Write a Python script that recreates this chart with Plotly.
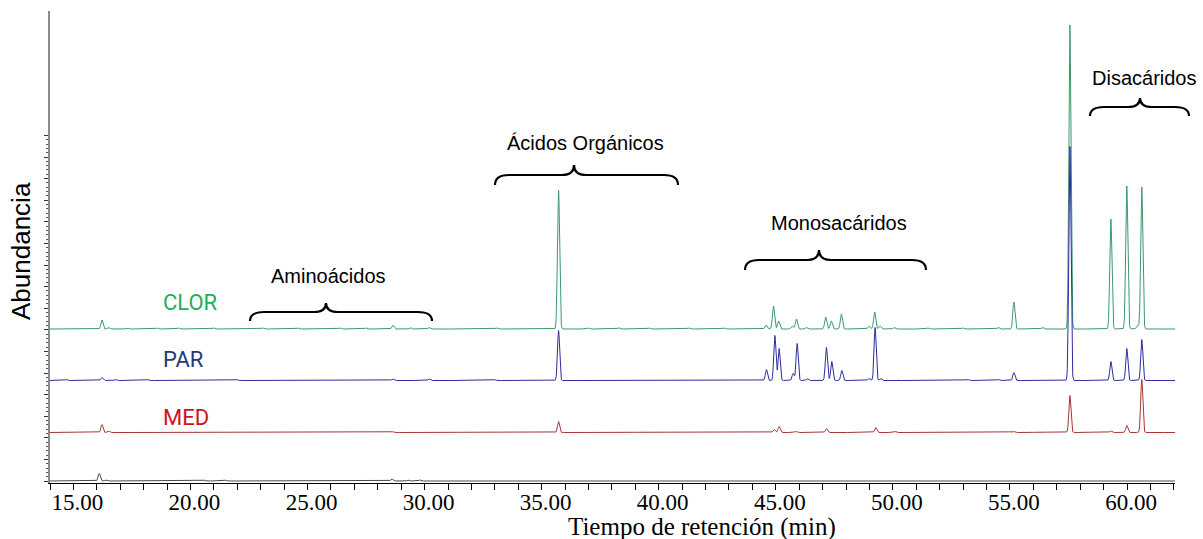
import numpy as np
import plotly.graph_objects as go

# Retention-time grid (min) on which each chromatogram is drawn
RT_MIN, RT_MAX, RT_STEP = 14.0, 62.05, 0.01
PEAK_SIGMA = 0.045  # min

# Vertical offset of each trace (stacked chromatograms, arbitrary abundance units)
offset_clor = 152.0
offset_par = 100.5
offset_med = 48.5
offset_ref = 0.0

# Peak tables: retention time (min) and height (abundance units)
clor_rt = [16.22, 16.5, 17.3, 18.6, 19.5, 21.0, 23.1, 24.6, 26.4, 27.5, 28.65, 29.4, 30.2,
           33.1, 35.72, 37.0, 38.3, 39.6, 41.3, 42.8, 44.58, 44.9, 45.12, 45.7, 45.88, 46.3,
           47.13, 47.37, 47.8, 48.98, 49.22, 49.45, 50.05, 51.5, 53.0, 54.5, 55.17, 56.4,
           57.56, 59.31, 59.99, 60.45, 60.63]
clor_h = [9, 1.5, 1, 1, 1, 1, 1, 1, 1, 1, 4, 1.5, 1.5,
          1, 139, 1, 1.2, 1, 1, 1, 4, 23, 8, 3, 10, 1.5,
          12, 8, 15, 3, 17, 3, 1.5, 1, 1, 1.5, 27, 1.5,
          304, 110, 143, 4, 142]

par_rt = [14.7, 16.22, 16.8, 18.2, 22.0, 28.65, 30.2, 33.0, 35.72, 44.6, 44.96, 45.14,
          45.74, 45.91, 46.35, 47.16, 47.39, 47.82, 48.98, 49.24, 49.48, 53.2, 54.5,
          55.17, 57.56, 59.31, 59.99, 60.63]
par_h = [1, 3, 1, 0.8, 0.8, 1.5, 1.5, 0.8, 50, 11, 45, 32,
         7, 37, 2, 33, 19, 10, 2, 53, 2, 1, 1,
         8, 234, 19, 32, 41]

med_rt = [16.22, 16.5, 28.65, 35.72, 44.93, 45.14, 45.87, 47.16, 49.27, 50.1, 55.17,
          57.56, 59.31, 59.99, 60.63]
med_h = [8, 1.5, 0.8, 11, 3, 6, 1, 4, 5, 1, 1,
         37, 1.5, 7, 53]

ref_rt = [16.1, 16.4, 20.6, 21.5, 28.6, 29.3, 29.8]
ref_h = [7.5, 1, 0.8, 0.8, 2, 1, 1]

rt = np.arange(RT_MIN, RT_MAX + RT_STEP / 2, RT_STEP)


def chromatogram(peak_rt, peak_h, base):
    y = np.full_like(rt, base)
    for r, h in zip(peak_rt, peak_h):
        y += h * np.exp(-0.5 * ((rt - r) / PEAK_SIGMA) ** 2)
    return y


fig = go.Figure()
traces = [
    ("CLOR", clor_rt, clor_h, offset_clor, "#3a9a6c"),
    ("PAR", par_rt, par_h, offset_par, "#2c2ca0"),
    ("MED", med_rt, med_h, offset_med, "#a83434"),
    ("REF", ref_rt, ref_h, offset_ref, "#4a4a4a"),
]
for name, prt, ph, base, color in traces:
    fig.add_trace(go.Scatter(
        x=rt, y=chromatogram(prt, ph, base), mode="lines", name=name,
        line=dict(color=color, width=1), hoverinfo="skip", showlegend=False,
    ))

# Plot-area geometry in pixels, used to place braces and labels
W, H = 1203, 539
L, R, T, B = 50, 28, 11, 56
PW, PH = W - L - R, H - T - B


def px(x):
    return (x - L) / PW


def py(y):
    return (H - B - y) / PH


def brace_path(x0, x1, xt, y_end, y_flat, y_tip, rx=14, rt_=12):
    """Curly brace opening downward, coordinates in pixels -> paper path."""
    def P(x, y):
        return f"{px(x):.5f},{py(y):.5f}"
    return (
        f"M {P(x0, y_end)} "
        f"Q {P(x0, y_flat)} {P(x0 + rx, y_flat)} "
        f"L {P(xt - rt_, y_flat)} "
        f"Q {P(xt, y_flat)} {P(xt, y_tip)} "
        f"Q {P(xt, y_flat)} {P(xt + rt_, y_flat)} "
        f"L {P(x1 - rx, y_flat)} "
        f"Q {P(x1, y_flat)} {P(x1, y_end)}"
    )


groups = [
    # label, brace x0, x1, tip, y_end, y_flat, y_tip, label x, label y (pixels)
    ("Aminoácidos", 250, 432, 326, 321, 312, 303, 328, 276),
    ("Ácidos Orgánicos", 495, 678, 574, 185, 175, 165, 585, 143),
    ("Monosacáridos", 745, 926, 819, 270, 260, 250, 839, 223),
    ("Disacáridos", 1090, 1189, 1140, 116, 107, 98, 1144, 78),
]
SANS = "Liberation Sans"
SERIF = "Liberation Serif"

shapes = []
annotations = []
for label, x0, x1, xt, ye, yf, ytip, lx, ly in groups:
    shapes.append(dict(type="path", xref="paper", yref="paper",
                       path=brace_path(x0, x1, xt, ye, yf, ytip),
                       line=dict(color="black", width=2.2)))
    annotations.append(dict(text=label, xref="paper", yref="paper", x=px(lx), y=py(ly),
                            xanchor="center", yanchor="middle", showarrow=False,
                            font=dict(family=SANS, size=20, color="black")))

sample_labels = [("CLOR", "#1fae5c", 302), ("PAR", "#1f3a7c", 360), ("MED", "#cc1420", 417)]
for text, color, ly in sample_labels:
    annotations.append(dict(text=text, xref="paper", yref="paper", x=px(161), y=py(ly),
                            xanchor="left", yanchor="middle", showarrow=False,
                            font=dict(family="Roboto", size=22, color=color)))

annotations.append(dict(text="Tiempo de retención (min)", xref="paper", yref="paper",
                        x=px(702), y=py(527), xanchor="center", yanchor="middle",
                        showarrow=False,
                        font=dict(family=SERIF, size=25, color="black")))
annotations.append(dict(text="Abundancia", xref="paper", yref="paper",
                        x=px(21), y=py(251), xanchor="center", yanchor="middle",
                        textangle=-90, showarrow=False,
                        font=dict(family=SANS, size=26, color="black")))

x_tickvals = [15, 20, 25, 30, 35, 40, 45, 50, 55, 60]
x_ticktext = ["15.00", "20.00", "25.00", "30.00", "35.00", "40.00", "45.00", "50.00", "55.00", "60.00"]
y_major = [i * 21.6 for i in range(17)]
y_minor = [i * 4.32 for i in range(81)]

fig.update_layout(
    width=W, height=H,
    margin=dict(l=L, r=R, t=T, b=B),
    paper_bgcolor="white", plot_bgcolor="white",
    font=dict(family=SERIF, color="black"),
    shapes=shapes, annotations=annotations,
    xaxis=dict(
        range=[RT_MIN, RT_MAX], tickmode="array", tickvals=x_tickvals, ticktext=x_ticktext,
        ticks="outside", ticklen=6, tickcolor="black", tickwidth=1,
        ticklabelstandoff=-8, ticklabelshift=4,
        showline=True, linecolor="black", linewidth=1, showgrid=False, zeroline=False,
        tickfont=dict(family=SERIF, size=23, color="black"),
        minor=dict(dtick=1, tick0=14, ticks="outside", ticklen=6, tickcolor="black", showgrid=False),
    ),
    yaxis=dict(
        range=[-2, 470], tickmode="array", tickvals=y_major, showticklabels=False,
        ticks="outside", ticklen=4, tickcolor="#333", tickwidth=1,
        showline=True, linecolor="#8a8a8a", linewidth=1.5, showgrid=False, zeroline=False,
        minor=dict(tickmode="array", tickvals=y_minor, ticks="outside", ticklen=2,
                   tickcolor="#555", showgrid=False),
    ),
)

fig.write_html("out.html")
